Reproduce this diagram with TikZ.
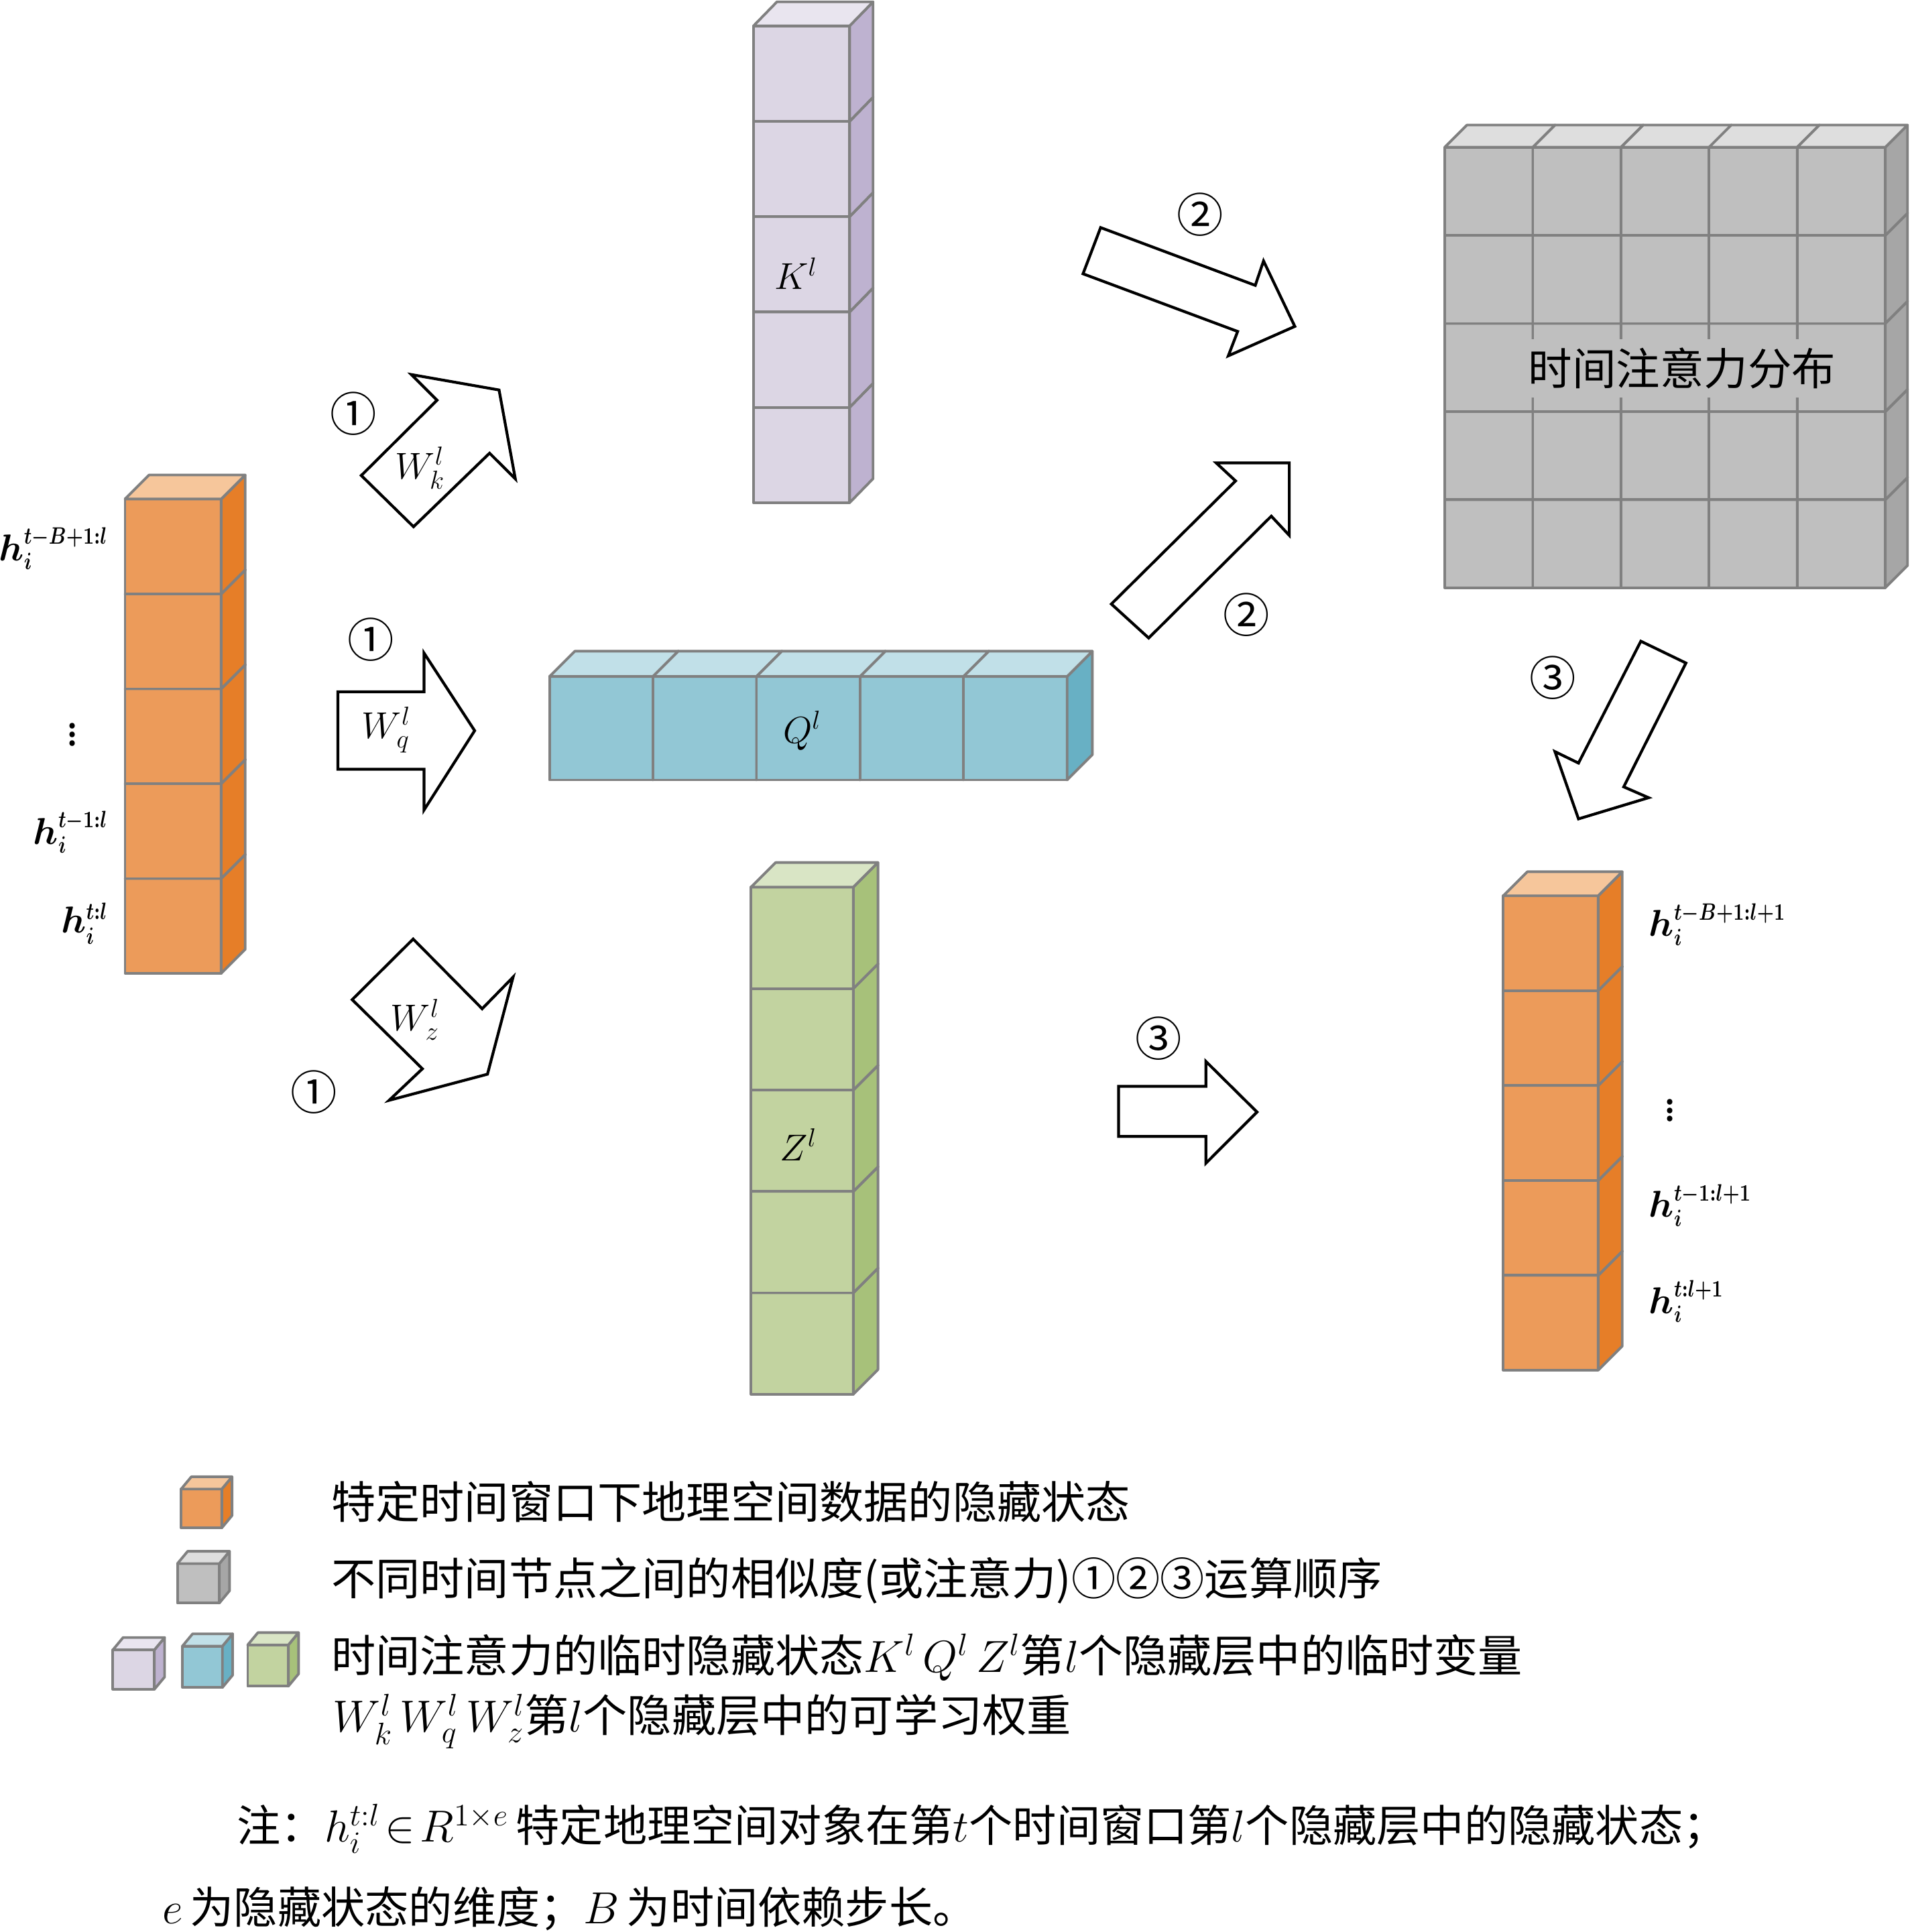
\documentclass[tikz,border=0pt]{standalone}
\usepackage{amsmath}
\usepackage{graphicx}
\usepackage{fontspec}
\setmainfont{Noto Sans CJK SC}
\definecolor{edgec}{RGB}{128,128,128}
\definecolor{orF}{RGB}{236,155,90}
\definecolor{orS}{RGB}{230,126,40}
\definecolor{orT}{RGB}{246,198,155}
\definecolor{lvF}{RGB}{220,214,228}
\definecolor{lvS}{RGB}{190,178,208}
\definecolor{lvT}{RGB}{233,229,239}
\definecolor{cyF}{RGB}{146,199,213}
\definecolor{cyS}{RGB}{104,176,196}
\definecolor{cyT}{RGB}{193,224,232}
\definecolor{grF}{RGB}{194,211,160}
\definecolor{grS}{RGB}{167,193,122}
\definecolor{grT}{RGB}{217,229,197}
\definecolor{gyF}{RGB}{191,191,191}
\definecolor{gyS}{RGB}{166,166,166}
\definecolor{gyT}{RGB}{222,222,222}
\def\cdx{20}\def\cdy{20}
% #1 x, #2 y (top-left of front face), #3 w, #4 h, #5 front, #6 side, #7 top
\newcommand{\mycube}[7]{%
  \filldraw[cubeface,fill=#5] (#1,#2) rectangle ++(#3,#4);
  \filldraw[cubeface,fill=#6] ({#1+#3},#2) -- ++(\cdx,-\cdy) -- ++(0,#4) -- ++(-\cdx,\cdy) -- cycle;
  \filldraw[cubeface,fill=#7] (#1,#2) -- ++(\cdx,-\cdy) -- ++(#3,0) -- ++(-\cdx,\cdy) -- cycle;
}
\newcommand{\hsup}[1]{\mbox{\scalebox{0.8}[1]{\fontsize{11}{12}\selectfont\boldmath$#1$}}}
\tikzset{
  cubeface/.style={draw=edgec,line width=1.2pt,line join=round},
  barrow/.style={draw=black,fill=white,line width=1.3pt,line join=miter},
  circnum/.style={inner sep=0pt,font=\fontsize{21.5}{24}\selectfont},
  hlab/.style={inner sep=0pt,font=\fontsize{19}{22}\selectfont\boldmath},
  wlab/.style={inner sep=0pt,font=\fontsize{18.5}{21}\selectfont},
  mlab/.style={inner sep=0pt,font=\fontsize{18}{21}\selectfont},
  legtxt/.style={inner sep=0pt,anchor=base west,font=\fontsize{20.5}{24}\selectfont},
  notetxt/.style={inner sep=0pt,anchor=base west,font=\fontsize{20.2}{24}\selectfont}
}
\begin{document}
\begin{tikzpicture}[x=0.02cm,y=-0.02cm]
\useasboundingbox[fill=white] (0,0) rectangle (1550,1568);

% ---------- left orange column ----------
\def\cdx{19.5}\def\cdy{19.5}
\foreach \i in {4,3,2,1,0}{\mycube{101.5}{405+77*\i}{78}{77}{orF}{orS}{orT}}
\node[hlab,anchor=base east] (hl1) at (88,455) {$h_{\hsup{i}}^{\hsup{t{-}B{+}1{:}l}}$};
\node[inner sep=0pt,font=\fontsize{19}{22}\selectfont] (hldots) at (59,591) {$\vdots$};
\node[hlab,anchor=base east] (hl2) at (88,685) {$h_{\hsup{i}}^{\hsup{t{-}1{:}l}}$};
\node[hlab,anchor=base east] (hl3) at (88,757) {$h_{\hsup{i}}^{\hsup{t{:}l}}$};

% ---------- K column ----------
\def\cdx{19}\def\cdy{19.5}
\foreach \i in {4,3,2,1,0}{\mycube{611.5}{21+77.4*\i}{78}{77.4}{lvF}{lvS}{lvT}}
\node[mlab] (K) at (646,222) {$K^{l}$};

% ---------- Q row ----------
\def\cdx{20.5}\def\cdy{20.5}
\foreach \i in {0,1,2,3,4}{\mycube{446+84*\i}{549}{84}{84}{cyF}{cyS}{cyT}}
\node[mlab] (Q) at (651,593) {$Q^{l}$};

% ---------- Z column ----------
\def\cdx{20}\def\cdy{20}
\foreach \i in {4,3,2,1,0}{\mycube{609.5}{720+82.3*\i}{83}{82.3}{grF}{grS}{grT}}
\node[mlab] (Z) at (648,929) {$Z^{l}$};

% ---------- gray grid ----------
\def\cdx{18}\def\cdy{18}
\foreach \r in {4,3,2,1,0}{\foreach \c in {0,1,2,3,4}{\mycube{1172.5+71.5*\c}{119.5+71.5*\r}{71.5}{71.5}{gyF}{gyS}{gyT}}}
\node[fill=gyF,inner xsep=1pt,inner ysep=4pt,font=\fontsize{20.3}{24}\selectfont] (att) at (1365,299) {时间注意力分布};

% ---------- right orange column ----------
\def\cdx{19.5}\def\cdy{19.5}
\foreach \i in {4,3,2,1,0}{\mycube{1220}{727+77*\i}{77}{77}{orF}{orS}{orT}}
\node[hlab,anchor=base west] (hr1) at (1338,760) {$h_{\hsup{i}}^{\hsup{t{-}B{+}1{:}l{+}1}}$};
\node[inner sep=0pt,font=\fontsize{19}{22}\selectfont] (hrdots) at (1355,896) {$\vdots$};
\node[hlab,anchor=base west] (hr2) at (1338,988) {$h_{\hsup{i}}^{\hsup{t{-}1{:}l{+}1}}$};
\node[hlab,anchor=base west] (hr3) at (1338,1066) {$h_{\hsup{i}}^{\hsup{t{:}l{+}1}}$};

% ---------- block arrows ----------
\draw[barrow] (293.2,385.9) -- (354.7,324.8) -- (333.9,304.0) -- (405.0,316.5) -- (418.2,388.6) -- (397.3,367.8) -- (335.6,427.5) -- cycle;
\node[wlab] (wk) at (341,380) {$W_k^{l}$};
\node[circnum] (c1a) at (287,336) {①};

\draw[barrow] (274.2,561.5) -- (344.1,561.5) -- (344.1,530) -- (385.2,593) -- (344.1,657.4) -- (344.1,624.3) -- (274.2,624.3) -- cycle;
\node[wlab] (wq) at (313.6,592.5) {$W_q^{l}$};
\node[circnum] (c1b) at (301,519) {①};

\draw[barrow] (285.8,811.3) -- (335.3,762.1) -- (391.3,818.7) -- (416.4,793.0) -- (395.6,871.8) -- (315.8,893.0) -- (342.8,867.4) -- cycle;
\node[wlab] (wz) at (337,827.6) {$W_z^{l}$};
\node[circnum] (c1c) at (254.5,886.5) {①};

\draw[barrow] (893.2,184.7) -- (1018.7,231.6) -- (1025.4,211.8) -- (1050.8,264.9) -- (996.8,288.8) -- (1004.4,269.0) -- (878.9,222.2) -- cycle;
\node[circnum] (c2a) at (974,174) {②};

\draw[barrow] (901.9,490.2) -- (1002.7,390.3) -- (987.0,375.7) -- (1046.3,375.7) -- (1046.3,434.5) -- (1031.7,418.9) -- (932.2,517.8) -- cycle;
\node[circnum] (c2b) at (1011.4,499) {②};

\draw[barrow] (907.8,881.7) -- (978.6,881.7) -- (978.6,861.4) -- (1020.1,902.5) -- (978.6,944.1) -- (978.6,922.3) -- (907.8,922.3) -- cycle;
\node[circnum] (c3a) at (940,843) {③};

\draw[barrow] (1331.6,520.4) -- (1368.2,538.1) -- (1317.7,638.6) -- (1337.9,647.4) -- (1281.0,664.6) -- (1261.9,610.0) -- (1281.0,619.3) -- cycle;
\node[circnum] (c3b) at (1260,550) {③};

% ---------- legend ----------
\def\cdx{8.3}\def\cdy{10}
\mycube{147}{1208.5}{33}{31.5}{orF}{orS}{orT}
\mycube{144}{1269}{34}{32}{gyF}{gyS}{gyT}
\mycube{91.6}{1339}{33.7}{32}{lvF}{lvS}{lvT}
\mycube{148}{1336}{32.5}{33.5}{cyF}{cyS}{cyT}
\mycube{201}{1335}{33}{33.5}{grF}{grS}{grT}

\node[legtxt] (leg1) at (268.6,1232.5) {特定时间窗口下地理空间数据的隐藏状态};
\node[legtxt] (leg2) at (268.6,1294.5) {不同时间节点之间的相似度(或注意力)①②③运算顺序};
\node[legtxt] (leg3) at (268.6,1357) {时间注意力的临时隐藏状态$K^{l}\,Q^{l}\,Z^{l}$第$l$个隐藏层中的临时变量};
\node[legtxt] (leg4) at (270,1405.5) {$W_k^{l}\,W_q^{l}\,W_z^{l}$第$l$个隐藏层中的可学习权重};

\node[notetxt] (note1) at (192,1495) {注：$h_i^{t:l}\!\in\! R^{1\times e}$\,特定地理空间对象在第$t$个时间窗口第$l$个隐藏层中的隐藏状态；};
\node[notetxt] (note2) at (131.5,1561) {$e$\,为隐藏状态的维度；$B$\,为时间依赖步长。};
\end{tikzpicture}
\end{document}
